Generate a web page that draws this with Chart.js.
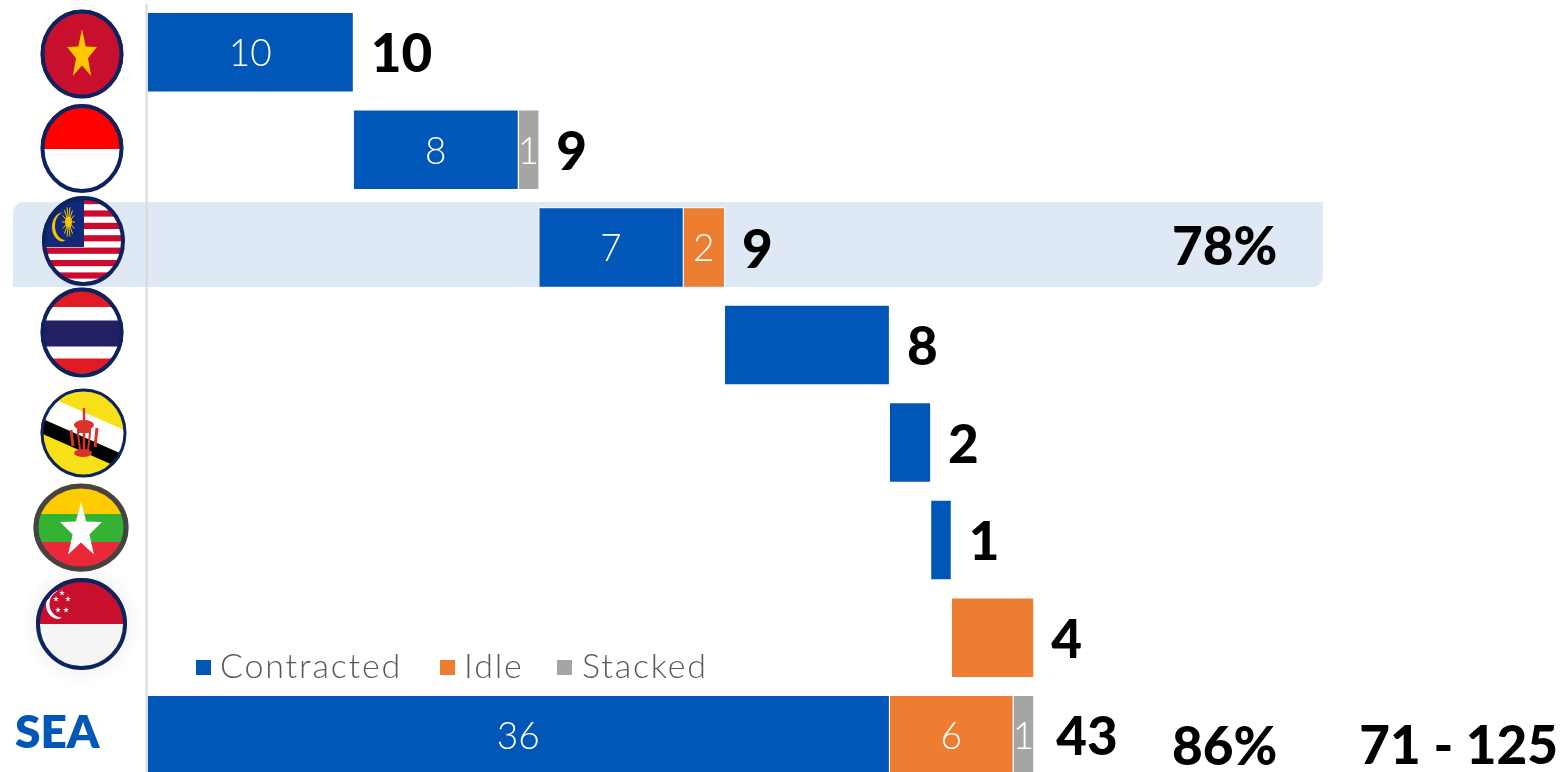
<!DOCTYPE html>
<html>
<head>
<meta charset="utf-8">
<script src="https://cdn.jsdelivr.net/npm/chart.js@4"></script>
<style>
html,body{margin:0;padding:0;background:#fff;overflow:hidden;width:1560px;height:772px}
#wrap{width:1560px;height:772px;overflow:hidden}
canvas{display:block}
</style>
</head>
<body>
<div id="wrap"><canvas id="c" width="1560" height="784"></canvas></div>
<script>
const categories = ["Vietnam","Indonesia","Malaysia","Thailand","Brunei","Myanmar","Singapore","SEA"];
const offsetValues = [0,10,19,28,36,38,39,0];
const contracted = [10,8,7,8,2,1,0,36];
const idle = [0,0,2,0,0,0,4,6];
const stacked = [0,1,0,0,0,0,0,1];
const totals = [10,9,9,8,2,1,4,43];
const segmentLabelled = [true,true,true,false,false,false,false,true];
const percentLabels = {Malaysia:"78%",SEA:"86%"};
const rangeLabels = {SEA:"71 - 125"};
const xMax = 68.5;

const NUM = '"Lato","Open Sans",sans-serif';
const COLORS = {contracted:'#0057B8',idle:'#ED7D31',stacked:'#A5A5A5',navy:'#0B2460'};

function star(ctx,cx,cy,rx,ry,fill){
  ctx.beginPath();
  for(let i=0;i<10;i++){
    const a=-Math.PI/2+i*Math.PI/5, q=i%2?0.4:1;
    const x=cx+q*rx*Math.cos(a), y=cy+q*ry*Math.sin(a);
    i?ctx.lineTo(x,y):ctx.moveTo(x,y);
  }
  ctx.closePath();ctx.fillStyle=fill;ctx.fill();
}
function flagFrame(ctx,cx,cy,rx,ry,border,bw,paint){
  ctx.save();
  ctx.beginPath();ctx.ellipse(cx,cy,rx,ry,0,0,Math.PI*2);ctx.clip();
  paint(cx-rx,cy-ry,rx*2,ry*2);
  ctx.restore();
  ctx.beginPath();ctx.ellipse(cx,cy,rx-bw/2,ry-bw/2,0,0,Math.PI*2);
  ctx.strokeStyle=border;ctx.lineWidth=bw;ctx.stroke();
}
const flagPainters = {
  Vietnam(ctx){
    flagFrame(ctx,82,54,41.5,44.5,COLORS.navy,4,(x,y,w,h)=>{
      ctx.fillStyle='#C8102E';ctx.fillRect(x,y,w,h);
      star(ctx,82,55,15.7,26,'#FFC800');
    });
  },
  Indonesia(ctx){
    flagFrame(ctx,82,148.5,41.5,44.5,COLORS.navy,4,(x,y,w,h)=>{
      ctx.fillStyle='#fff';ctx.fillRect(x,y,w,h);
      ctx.fillStyle='#FF0000';ctx.fillRect(x,y,w,45);
    });
  },
  Malaysia(ctx){
    flagFrame(ctx,83.5,241,41.5,45,COLORS.navy,4,(x,y,w,h)=>{
      ctx.fillStyle='#fff';ctx.fillRect(x,y,w,h);
      ctx.fillStyle='#CC0A2F';
      for(let i=0;i<7;i++)ctx.fillRect(x,198+i*12.4,w,6.2);
      ctx.fillStyle='#12297A';ctx.fillRect(x,y,42,51);
      ctx.fillStyle='#F6C500';
      ctx.beginPath();ctx.ellipse(63,227,11,14.5,0,Math.PI*0.5,Math.PI*1.5);
      ctx.ellipse(65.5,226,10.5,14,0,Math.PI*1.5,Math.PI*0.5,true);ctx.closePath();ctx.fill();
      ctx.strokeStyle='#F6C500';ctx.lineWidth=1;
      for(let i=0;i<14;i++){
        const a=i*Math.PI/7;
        ctx.beginPath();ctx.moveTo(68.5,222);ctx.lineTo(68.5+6.5*Math.cos(a),222+15*Math.sin(a));ctx.stroke();
      }
      ctx.beginPath();ctx.ellipse(68.5,222,3.5,5.5,0,0,Math.PI*2);ctx.fill();
    });
  },
  Thailand(ctx){
    flagFrame(ctx,82,332.5,41.5,45,COLORS.navy,4,(x,y,w,h)=>{
      ctx.fillStyle='#fff';ctx.fillRect(x,y,w,h);
      ctx.fillStyle='#E01B24';ctx.fillRect(x,y,w,19.5);ctx.fillRect(x,358.5,w,15);
      ctx.fillStyle='#231F63';ctx.fillRect(x,320.5,w,26);
    });
  },
  Brunei(ctx){
    flagFrame(ctx,83.5,433,43,44.5,COLORS.navy,3,(x,y,w,h)=>{
      ctx.fillStyle='#F7E017';ctx.fillRect(x,y,w,h);
      const band=(y0,y1,fill)=>{
        ctx.fillStyle=fill;ctx.beginPath();
        ctx.moveTo(x,y0);ctx.lineTo(x+w,y0+38);ctx.lineTo(x+w,y1+38);ctx.lineTo(x,y1);ctx.closePath();ctx.fill();
      };
      band(393,418,'#fff');band(418,433,'#000');
      ctx.strokeStyle='#D9342B';ctx.fillStyle='#D9342B';ctx.lineWidth=2.5;
      ctx.beginPath();ctx.moveTo(84,408);ctx.lineTo(84,452);ctx.stroke();
      ctx.beginPath();ctx.ellipse(84,425,10,5,0,0,Math.PI*2);ctx.fill();
      ctx.fillRect(77,428,14,5);
      ctx.lineWidth=2;
      ctx.beginPath();ctx.moveTo(78,433);ctx.lineTo(80,450);ctx.moveTo(90,433);ctx.lineTo(88,450);ctx.stroke();
      ctx.lineWidth=3;
      ctx.beginPath();ctx.moveTo(71,430);ctx.lineTo(73,446);ctx.moveTo(97,428);ctx.lineTo(95,447);ctx.stroke();
      ctx.beginPath();ctx.ellipse(83,453,9,4,0,0,Math.PI*2);ctx.fill();
    });
  },
  Myanmar(ctx){
    flagFrame(ctx,81,527.5,47.5,44,'#444444',5,(x,y,w,h)=>{
      ctx.fillStyle='#FECB00';ctx.fillRect(x,y,w,h);
      ctx.fillStyle='#34B233';ctx.fillRect(x,514,w,28);
      ctx.fillStyle='#EA2839';ctx.fillRect(x,542,w,h);
      star(ctx,81,531,22,29,'#fff');
    });
  },
  Singapore(ctx){
    ctx.save();
    const g=ctx.createRadialGradient(81.5,624,42,81.5,624,62);
    g.addColorStop(0,'rgba(0,0,0,0.04)');g.addColorStop(1,'rgba(0,0,0,0)');
    ctx.fillStyle=g;ctx.fillRect(15,560,132,128);
    ctx.restore();
    flagFrame(ctx,81.5,624,45.5,46,COLORS.navy,4,(x,y,w,h)=>{
      ctx.fillStyle='#F5F5F5';ctx.fillRect(x,y,w,h);
      ctx.fillStyle='#C8102E';ctx.fillRect(x,y,w,46);
      ctx.fillStyle='#fff';
      ctx.beginPath();ctx.ellipse(59,605,13,14,0,Math.PI*0.5,Math.PI*1.5);
      ctx.ellipse(62,604,12.5,13.5,0,Math.PI*1.5,Math.PI*0.5,true);ctx.closePath();ctx.fill();
      [[62,593],[56,599],[68,599],[58,610],[66,610]].forEach(p=>star(ctx,p[0],p[1],3,3,'#fff'));
    });
  }
};

const overlay = {
  id:'overlay',
  beforeDatasetsDraw(chart){
    const ctx=chart.ctx, x1=13, x2=1323, y1=202, y2=287, r=11;
    ctx.save();
    ctx.fillStyle='#DEE9F5';
    ctx.beginPath();
    ctx.roundRect(x1,y1,x2-x1,y2-y1,[r,0,r,0]);
    ctx.fill();
    const a=chart.chartArea;
    ctx.strokeStyle='#D9D9D9';ctx.lineWidth=2;
    ctx.beginPath();ctx.moveTo(a.left-1,a.top);ctx.lineTo(a.left-1,a.bottom);ctx.stroke();
    ctx.restore();
  },
  afterDatasetsDraw(chart){
    const ctx=chart.ctx, xs=chart.scales.x, ys=chart.scales.y;
    ctx.save();
    categories.forEach(name=>{ if(flagPainters[name]) flagPainters[name](ctx); });

    // labels inside segments
    ctx.textAlign='center';ctx.textBaseline='middle';
    ctx.fillStyle='#fff';ctx.font='300 37px '+NUM;
    categories.forEach((name,i)=>{
      if(!segmentLabelled[i])return;
      let start=offsetValues[i];
      [contracted,idle,stacked].forEach(arr=>{
        const v=arr[i];
        if(v>0){
          ctx.fillText(String(v),xs.getPixelForValue(start+v/2)-0.5,ys.getPixelForValue(i)+2);
          start+=v;
        }
      });
    });

    // totals
    ctx.textAlign='left';ctx.fillStyle='#000';
    ctx.font='900 53px '+NUM;
    categories.forEach((name,i)=>{
      const end=offsetValues[i]+totals[i];
      ctx.fillText(String(totals[i]),xs.getPixelForValue(end)+(name==='SEA'?22:17),ys.getPixelForValue(i)+3);
    });

    // percentage and range columns
    ctx.font='900 53px '+NUM;
    categories.forEach((name,i)=>{
      const yc=ys.getPixelForValue(i);
      if(percentLabels[name])ctx.fillText(percentLabels[name],1172,yc+(name==='SEA'?13:0));
      if(rangeLabels[name]){
        ctx.textAlign='right';
        ctx.fillText(rangeLabels[name],1558,yc+12);
        ctx.textAlign='left';
      }
    });

    // SEA row label
    ctx.fillStyle=COLORS.contracted;ctx.font='800 46px "Lato",sans-serif';
    ctx.textAlign='left';
    ctx.fillText('SEA',15,733);

    // legend, built from the datasets
    const lg=[[196,220],[440,464],[557,582]];
    ctx.font='300 34px '+NUM;
    if('letterSpacing' in ctx)ctx.letterSpacing='1.8px';
    chart.data.datasets.filter(d=>d.label).forEach((d,i)=>{
      ctx.fillStyle=d.backgroundColor;ctx.fillRect(lg[i][0],660,15,15);
      ctx.fillStyle='#595959';ctx.fillText(d.label,lg[i][1],667);
    });
    ctx.restore();
  }
};

new Chart(document.getElementById('c'),{
  type:'bar',
  plugins:[overlay],
  data:{
    labels:categories,
    datasets:[
      {data:offsetValues,backgroundColor:'rgba(0,0,0,0)',borderWidth:0},
      {label:'Contracted',data:contracted,backgroundColor:COLORS.contracted,borderColor:'#fff',borderWidth:1},
      {label:'Idle',data:idle,backgroundColor:COLORS.idle,borderColor:'#fff',borderWidth:1},
      {label:'Stacked',data:stacked,backgroundColor:COLORS.stacked,borderColor:'#fff',borderWidth:1}
    ]
  },
  options:{
    indexAxis:'y',
    responsive:false,
    animation:false,
    layout:{padding:{left:147.6,top:3.5,right:0,bottom:0}},
    datasets:{bar:{barPercentage:0.825,categoryPercentage:1}},
    plugins:{legend:{display:false},tooltip:{enabled:false},title:{display:false}},
    scales:{
      x:{stacked:true,min:0,max:xMax,display:false},
      y:{stacked:true,display:false}
    }
  }
});
</script>
</body>
</html>
